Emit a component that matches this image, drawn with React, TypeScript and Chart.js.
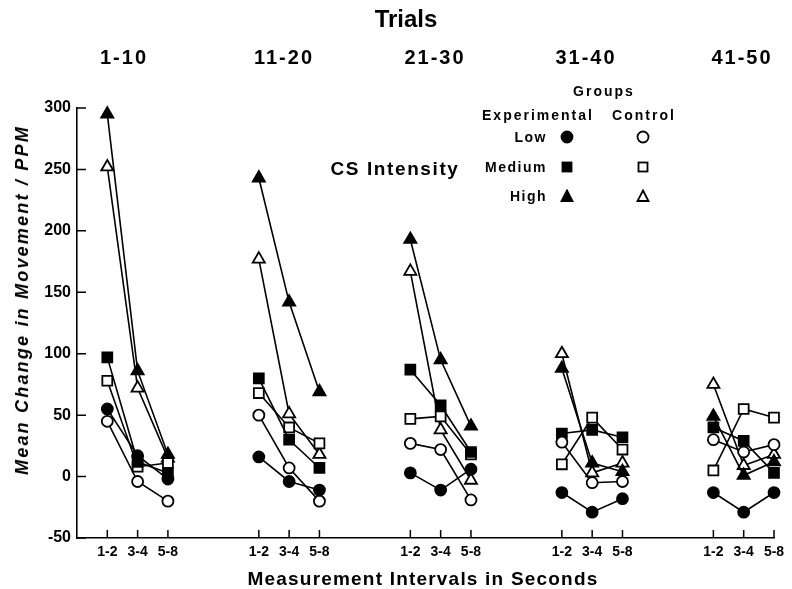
import React, { useEffect, useRef } from "react";
import { Chart, registerables } from "chart.js";

Chart.register(...registerables);

const trialLabels = ["1-10", "11-20", "21-30", "31-40", "41-50"];
const intervalLabels = ["1-2", "3-4", "5-8"];
const yTickValues = [-50, 0, 50, 100, 150, 200, 250, 300];

// values per series: 5 trial blocks x 3 intervals
const expLow = [55, 17, -2, 16, -4, -11, 3, -11, 6, -13, -29, -18, -13, -29, -13];
const ctrlLow = [45, -4, -20, 50, 7, -20, 27, 22, -19, 28, -5, -4, 30, 20, 26];
const expMedium = [97, 12, 3, 80, 30, 7, 87, 58, 20, 35, 38, 32, 40, 29, 3];
const ctrlMedium = [78, 8, 11, 68, 40, 27, 47, 49, 18, 10, 48, 22, 5, 55, 48];
const expHigh = [295, 86, 18, 243, 142, 69, 193, 95, 41, 88, 11, 4, 49, 1, 12];
const ctrlHigh = [252, 72, 15, 177, 51, 18, 167, 38, -3, 100, 3, 11, 75, 9, 18];

const FONT = "'Liberation Sans', Arial, Helvetica, sans-serif";

function xPos(g: number, i: number) {
  return g * 5 + i;
}

function buildPoints(vals: number[]) {
  const pts: { x: number; y: number | null }[] = [];
  for (let g = 0; g < trialLabels.length; g++) {
    for (let i = 0; i < intervalLabels.length; i++) {
      pts.push({ x: xPos(g, i), y: vals[g * 3 + i] });
    }
    if (g < trialLabels.length - 1) pts.push({ x: xPos(g, 3), y: null });
  }
  return pts;
}

const tickPositions: number[] = [];
for (let g = 0; g < trialLabels.length; g++)
  for (let i = 0; i < intervalLabels.length; i++) tickPositions.push(xPos(g, i));

function ds(label: string, vals: number[], style: string, filled: boolean, r: number) {
  return {
    label,
    data: buildPoints(vals),
    borderColor: "#000",
    borderWidth: 1.6,
    pointStyle: style,
    pointRadius: r,
    pointBorderWidth: 1.8,
    pointBorderColor: "#000",
    pointBackgroundColor: filled ? "#000" : "#fff",
    spanGaps: false,
    clip: false as any,
    tension: 0,
  };
}

const inwardTicks = {
  id: "inwardTicks",
  afterDraw(chart: any) {
    const { ctx, chartArea, scales } = chart;
    ctx.save();
    ctx.strokeStyle = "#000";
    ctx.lineWidth = 1.5;
    ctx.beginPath();
    for (const v of yTickValues) {
      const y = scales.y.getPixelForValue(v);
      ctx.moveTo(chartArea.left, y);
      ctx.lineTo(chartArea.left + 9, y);
    }
    for (const p of tickPositions) {
      const x = scales.x.getPixelForValue(p);
      ctx.moveTo(x, chartArea.bottom);
      ctx.lineTo(x, chartArea.bottom - 8);
    }
    ctx.stroke();
    ctx.restore();
  },
};

const legendRows = [
  { label: "Low", style: "circle" },
  { label: "Medium", style: "rect" },
  { label: "High", style: "triangle" },
];

function Marker({ style, filled }: { style: string; filled: boolean }) {
  const fill = filled ? "#000" : "#fff";
  let shape: React.ReactNode = null;
  if (style === "circle") shape = <circle cx={7} cy={7} r={5.5} fill={fill} stroke="#000" strokeWidth={1.8} />;
  else if (style === "rect") shape = <rect x={2.5} y={2.5} width={9} height={9} fill={fill} stroke="#000" strokeWidth={1.8} />;
  else shape = <polygon points="7,1.5 12.5,12 1.5,12" fill={fill} stroke="#000" strokeWidth={1.8} strokeLinejoin="miter" />;
  return (
    <svg width={14} height={14} style={{ display: "block" }}>
      {shape}
    </svg>
  );
}

export default function App() {
  const canvasRef = useRef<HTMLCanvasElement | null>(null);

  useEffect(() => {
    if (!canvasRef.current) return;
    const chart = new Chart(canvasRef.current, {
      type: "line",
      data: {
        datasets: [
          ds("Experimental Low", expLow, "circle", true, 5.5),
          ds("Control Low", ctrlLow, "circle", false, 5.5),
          ds("Experimental Medium", expMedium, "rect", true, 7),
          ds("Control Medium", ctrlMedium, "rect", false, 7),
          ds("Experimental High", expHigh, "triangle", true, 7),
          ds("Control High", ctrlHigh, "triangle", false, 7),
        ] as any,
      },
      options: {
        animation: false,
        responsive: false,
        devicePixelRatio: 1,
        layout: { padding: { top: 108, right: 18, left: 0, bottom: 0 } },
        plugins: { legend: { display: false }, tooltip: { enabled: false }, title: { display: false } },
        scales: {
          x: {
            type: "linear",
            min: -1,
            max: 22,
            afterBuildTicks: (s: any) => {
              s.ticks = tickPositions.map((v) => ({ value: v }));
            },
            afterFit: (s: any) => {
              s.height = 51;
            },
            ticks: {
              autoSkip: false,
              maxRotation: 0,
              padding: 6,
              color: "#000",
              font: { family: FONT, size: 14, weight: "bold" },
              callback: (v: any) => {
                const m = Math.round(Number(v)) % 5;
                return intervalLabels[m] ?? "";
              },
            },
            grid: { drawOnChartArea: false, drawTicks: false },
            border: { color: "#000", width: 1.6 },
          },
          y: {
            min: -50,
            max: 300,
            afterBuildTicks: (s: any) => {
              s.ticks = yTickValues.map((v) => ({ value: v }));
            },
            afterFit: (s: any) => {
              s.width = 77;
            },
            ticks: {
              padding: 6,
              color: "#000",
              font: { family: FONT, size: 16, weight: "bold" },
            },
            grid: { drawOnChartArea: false, drawTicks: false },
            border: { color: "#000", width: 1.6 },
          },
        },
      } as any,
      plugins: [inwardTicks],
    });
    return () => chart.destroy();
  }, []);

  const groupCenters = [124, 284, 435, 586, 742];

  const textBase: React.CSSProperties = {
    position: "absolute",
    fontFamily: FONT,
    fontWeight: "bold",
    color: "#000",
    whiteSpace: "nowrap",
    lineHeight: 1,
  };

  return (
    <div style={{ position: "fixed", left: 0, top: 0, width: 792, height: 589, background: "#fff", overflow: "hidden" }}>
      <canvas ref={canvasRef} width={792} height={589} style={{ position: "absolute", left: 0, top: 0 }} />
      <div style={{ ...textBase, left: 406, top: 19, fontSize: 24, transform: "translate(-50%,-50%)" }}>Trials</div>
      {trialLabels.map((t, i) => (
        <div
          key={t}
          style={{ ...textBase, left: groupCenters[i], top: 57, fontSize: 20, letterSpacing: 2, transform: "translate(-50%,-50%)" }}
        >
          {t}
        </div>
      ))}
      <div
        style={{
          ...textBase,
          left: 22,
          top: 300,
          fontSize: 18,
          fontStyle: "italic",
          letterSpacing: 2.2,
          transform: "translate(-50%,-50%) rotate(-90deg)",
        }}
      >
        Mean Change in Movement / PPM
      </div>
      <div style={{ ...textBase, left: 423, top: 578, fontSize: 19, letterSpacing: 1.2, transform: "translate(-50%,-50%)" }}>
        Measurement Intervals in Seconds
      </div>
      <div style={{ ...textBase, left: 604, top: 91, fontSize: 14, letterSpacing: 2, transform: "translate(-50%,-50%)" }}>Groups</div>
      <div style={{ ...textBase, left: 538, top: 115, fontSize: 14, letterSpacing: 2, transform: "translate(-50%,-50%)" }}>
        Experimental
      </div>
      <div style={{ ...textBase, left: 644, top: 115, fontSize: 14, letterSpacing: 2, transform: "translate(-50%,-50%)" }}>Control</div>
      <div style={{ ...textBase, left: 395, top: 168, fontSize: 19, letterSpacing: 1.6, transform: "translate(-50%,-50%)" }}>
        CS Intensity
      </div>
      {legendRows.map((r, i) => {
        const y = [137, 167, 196][i];
        return (
          <React.Fragment key={r.label}>
            <div style={{ ...textBase, right: 792 - 547, top: y, fontSize: 14, letterSpacing: 1.5, transform: "translateY(-50%)" }}>
              {r.label}
            </div>
            <div style={{ position: "absolute", left: 560, top: y - 7 }}>
              <Marker style={r.style} filled={true} />
            </div>
            <div style={{ position: "absolute", left: 636, top: y - 7 }}>
              <Marker style={r.style} filled={false} />
            </div>
          </React.Fragment>
        );
      })}
    </div>
  );
}
